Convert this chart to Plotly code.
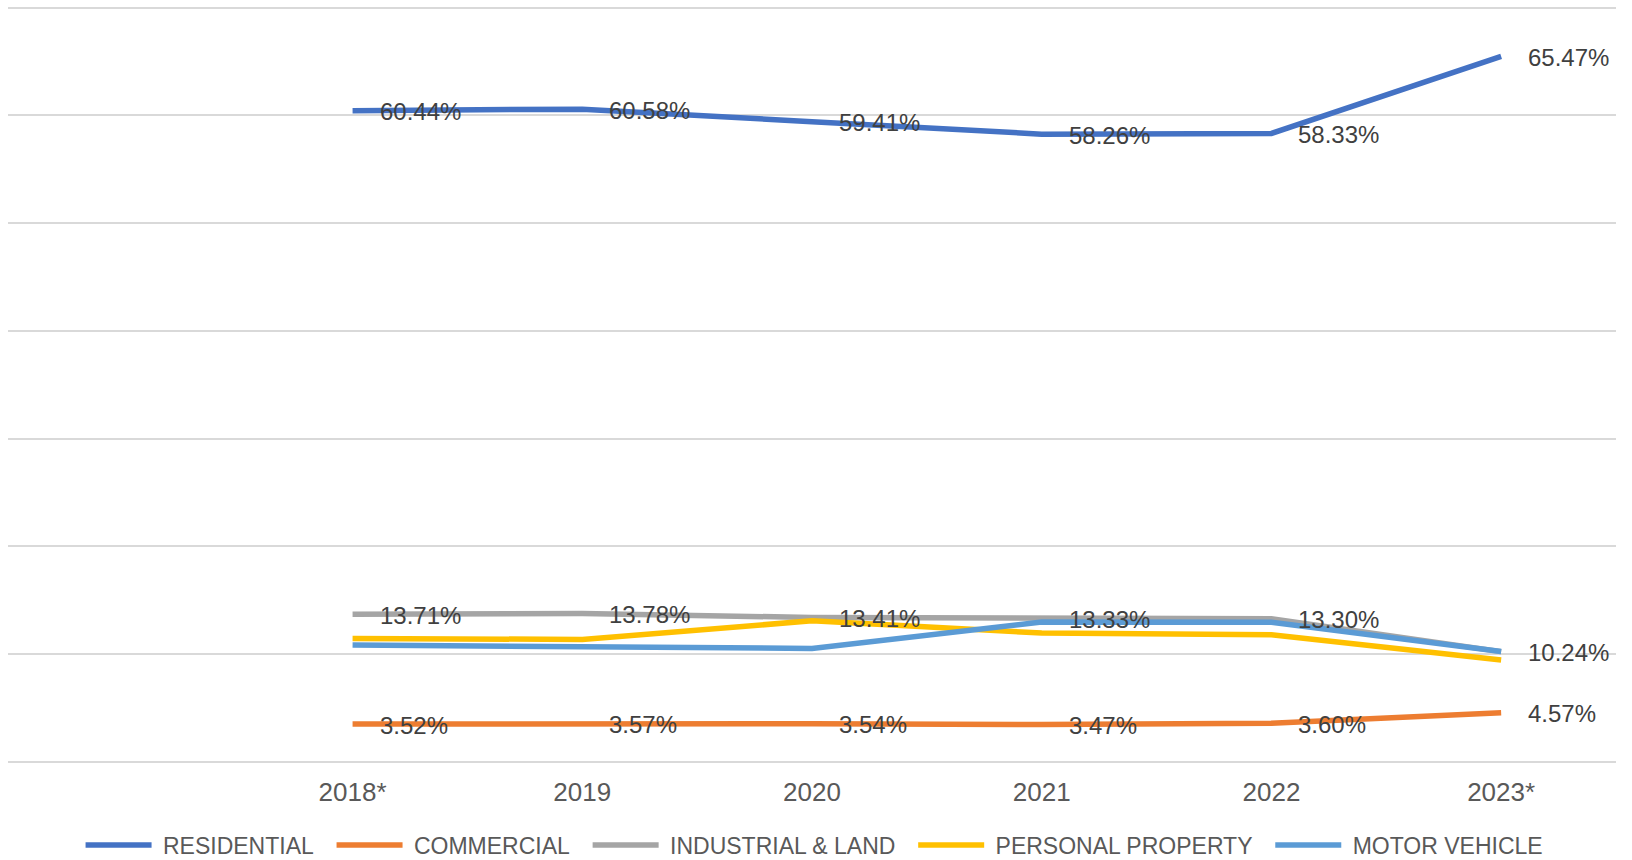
import plotly.graph_objects as go

years = ["2018*", "2019", "2020", "2021", "2022", "2023*"]
slots = [" "] + years  # leading empty category slot as in the reference

residential = [60.44, 60.58, 59.41, 58.26, 58.33, 65.47]
commercial = [3.52, 3.57, 3.54, 3.47, 3.60, 4.57]
industrial = [13.71, 13.78, 13.41, 13.33, 13.30, 10.24]
personal = [11.47, 11.37, 13.10, 11.96, 11.80, 9.46]
motor = [10.86, 10.70, 10.54, 12.98, 12.97, 10.26]

series = [
    ("RESIDENTIAL", residential, "#4472C4", True),
    ("COMMERCIAL", commercial, "#ED7D31", True),
    ("INDUSTRIAL & LAND", industrial, "#A5A5A5", True),
    ("PERSONAL PROPERTY", personal, "#FFC000", False),
    ("MOTOR VEHICLE", motor, "#5B9BD5", False),
]

FONT = "Liberation Sans, Arial, sans-serif"
NB = "\u00a0"

fig = go.Figure()
for name, vals, color, labelled in series:
    fig.add_trace(go.Scatter(
        x=years, y=vals,
        name=NB + name + NB * 2,
        mode="lines",
        line=dict(color=color, width=5.5),
        hoverinfo="skip",
    ))
    if labelled:
        for yr, v in zip(years, vals):
            fig.add_annotation(
                x=slots.index(yr), y=v, xref="x", yref="y",
                text=f"{v:.2f}%", showarrow=False,
                xanchor="left", yanchor="middle",
                xshift=25, yshift=-1,
                font=dict(family=FONT, size=24, color="#404040"),
            )

fig.update_layout(
    width=1632, height=860,
    paper_bgcolor="white", plot_bgcolor="white",
    margin=dict(l=8, r=16, t=6, b=98, autoexpand=False),
    showlegend=True,
    legend=dict(
        orientation="h", xref="container", x=0.5028, xanchor="center",
        yref="container", y=0.0174, yanchor="middle",
        font=dict(family=FONT, size=23, color="#595959"),
        itemwidth=66, tracegroupgap=0,
        traceorder="normal",
    ),
    xaxis=dict(
        type="category", categoryorder="array", categoryarray=slots,
        range=[-0.5, 6.5], showgrid=False, zeroline=False,
        showline=False, ticks="", automargin=False,
        tickfont=dict(family=FONT, size=26, color="#595959"),
        ticklabelstandoff=12,
    ),
    yaxis=dict(
        range=[0, 70.15], dtick=10, tick0=0, showticklabels=False,
        showgrid=True, gridcolor="#D9D9D9", gridwidth=2,
        zeroline=True, zerolinecolor="#D9D9D9", zerolinewidth=2,
        showline=False, ticks="", automargin=False,
    ),
)

fig.write_html(
    "out.html",
    config={"displayModeBar": False},
    post_script="document.body.style.margin='0';",
)
